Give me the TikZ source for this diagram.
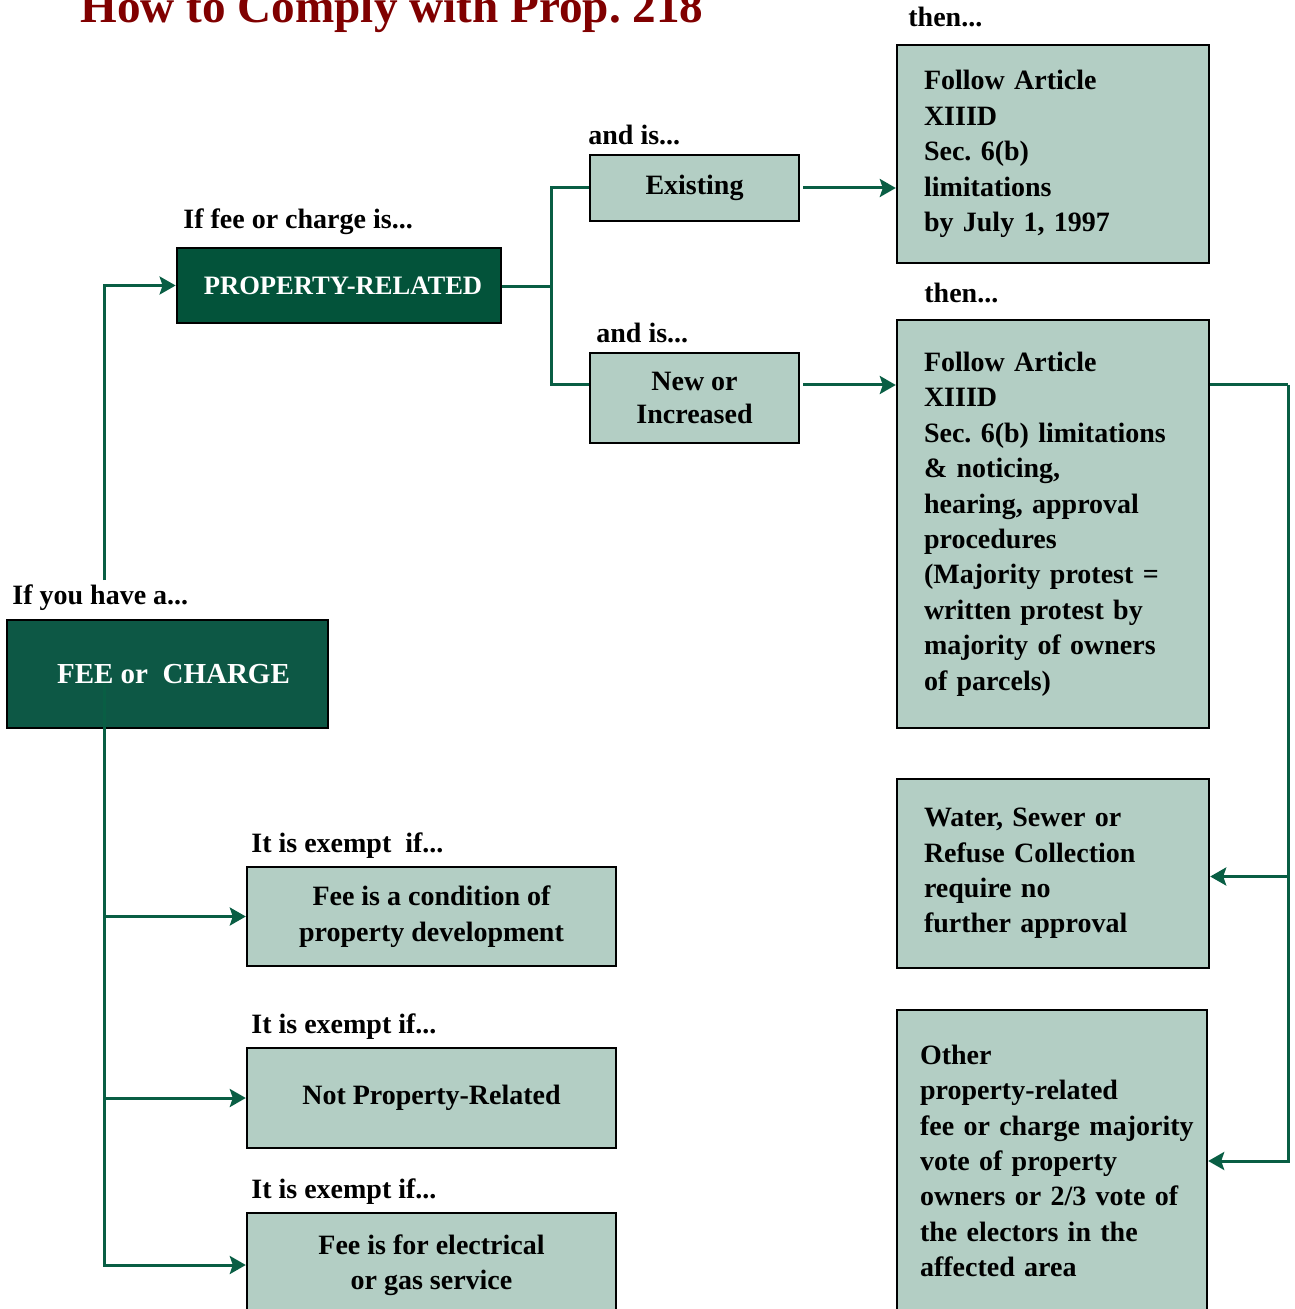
\documentclass[tikz,border=0pt]{standalone}
\usepackage{fontspec}
\setmainfont{Liberation Serif}
\usepackage{xcolor}
\usepackage{tikz}
\usetikzlibrary{arrows.meta, positioning}
\definecolor{feegreen}{RGB}{13,88,69}
\definecolor{propgreen}{RGB}{3,83,58}
\definecolor{boxfill}{RGB}{179,206,196}
\definecolor{linegreen}{RGB}{9,94,68}
\definecolor{titlered}{RGB}{128,0,0}
\frenchspacing

\begin{document}
\begin{tikzpicture}[x=0.5pt, y=-0.5pt,
    every node/.style={font=\fontsize{14pt}{17.7pt}\selectfont\bfseries},
    darkbox/.style={rectangle, draw=black, line width=1.4pt, text=white, align=center},
    lightbox/.style={rectangle, draw=black, line width=1.2pt, fill=boxfill, align=center},
    leftbox/.style={lightbox, align=left, inner xsep=13.5pt, text width=129pt, minimum width=156pt},
    tag/.style={anchor=base west, inner sep=0pt},
    conn/.style={linegreen, line width=1.5pt},
    arr/.style={conn, -{Stealth[length=8pt, width=9pt, inset=1.5pt]}}]
  \useasboundingbox (0,0) rectangle (1294,1309);

  % title
  \node[tag, text=titlered, font=\fontsize{23.6pt}{28pt}\selectfont\bfseries] (title) at (80,23) {How to Comply with Prop. 218};

  % main boxes
  \node[darkbox, fill=feegreen, minimum width=160.5pt, minimum height=54pt,
    font=\fontsize{14.5pt}{17.7pt}\selectfont\bfseries] (fee) at (167.5,674) {\hspace*{6pt}FEE or~ CHARGE};
  \node[darkbox, fill=propgreen, minimum width=162pt, minimum height=37.5pt,
    font=\fontsize{13.3pt}{17.7pt}\selectfont\bfseries] (prop) at (339,285.5) {\hspace*{4pt}PROPERTY-RELATED};
  \node[lightbox, minimum width=104.5pt, minimum height=33pt] (exist) at (694.5,188) {Existing};
  \node[lightbox, minimum width=104.5pt, minimum height=45pt,
    font=\fontsize{14pt}{16.5pt}\selectfont\bfseries] (newinc) at (694.5,398) {New or\\Increased};

  % results
  \node[leftbox, minimum height=109pt] (follow1) at (1053,154) {Follow Article\\XIIID\\Sec. 6(b)\\limitations\\by July 1, 1997};
  \node[leftbox, minimum height=204pt] (follow2) at (1053,524) {Follow Article\\XIIID\\Sec. 6(b) limitations\\\& noticing,\\hearing, approval\\procedures\\(Majority protest =\\written protest by\\majority of owners\\of parcels)};
  \node[leftbox, minimum height=94.5pt] (water) at (1053,873.5) {Water, Sewer or\\Refuse Collection\\require no\\further approval};
  \node[leftbox, inner xsep=11.5pt, text width=132pt, minimum width=155pt, minimum height=151pt] (other) at (1052,1161) {Other\\property-related\\\mbox{fee or charge majority}\\vote of property\\owners or 2/3 vote of\\the electors in the\\affected area};

  % exemptions
  \node[lightbox, minimum width=184.5pt, minimum height=49.5pt] (cond) at (431.5,916.5) {Fee is a condition of\\property development};
  \node[lightbox, minimum width=184.5pt, minimum height=50pt] (notprop) at (431.5,1098) {Not Property-Related};
  \node[lightbox, minimum width=184.5pt, minimum height=52pt] (elec) at (431.5,1265) {Fee is for electrical\\or gas service};

  % labels
  \node[tag] (lblhave) at (12,604) {If you have a...};
  \node[tag] (lblfee) at (183,229) {If fee or charge is...};
  \node[tag] (lblis1) at (588,145) {and is...};
  \node[tag] (lblis2) at (596,343) {and is...};
  \node[tag] (lblthen1) at (908,27) {then...};
  \node[tag] (lblthen2) at (924,303) {then...};
  \node[tag] (lblex1) at (251,852) {It is exempt~ if...};
  \node[tag] (lblex2) at (251,1033) {It is exempt if...};
  \node[tag] (lblex3) at (251,1198) {It is exempt if...};

  % connectors
  \coordinate (feeup) at (104,580);
  \coordinate (feedn) at (104,683);
  \coordinate (pbus) at (551,287);
  \coordinate (rbus) at (1288,385);
  \draw[arr] (feeup) |- (prop.west);
  \draw[arr] (feedn) |- (cond.west);
  \draw[arr] (feedn) |- (notprop.west);
  \draw[arr] (feedn) |- (elec.west);
  \draw[conn] (prop.east |- pbus) -- (pbus);
  \draw[conn] (pbus) |- (exist.west);
  \draw[conn] (pbus) |- ([yshift=6.5pt]newinc.west);
  \draw[arr] ([xshift=1.5pt]exist.east) -- (follow1.west |- exist.east);
  \draw[arr] ([xshift=1.5pt, yshift=6.5pt]newinc.east) -- (follow2.west |- rbus);
  \draw[conn] (follow2.east |- rbus) -- (rbus);
  \draw[arr] (rbus) |- ([yshift=-1.5pt]water.east);
  \draw[arr] (rbus) |- (other.east);
\end{tikzpicture}
\end{document}
